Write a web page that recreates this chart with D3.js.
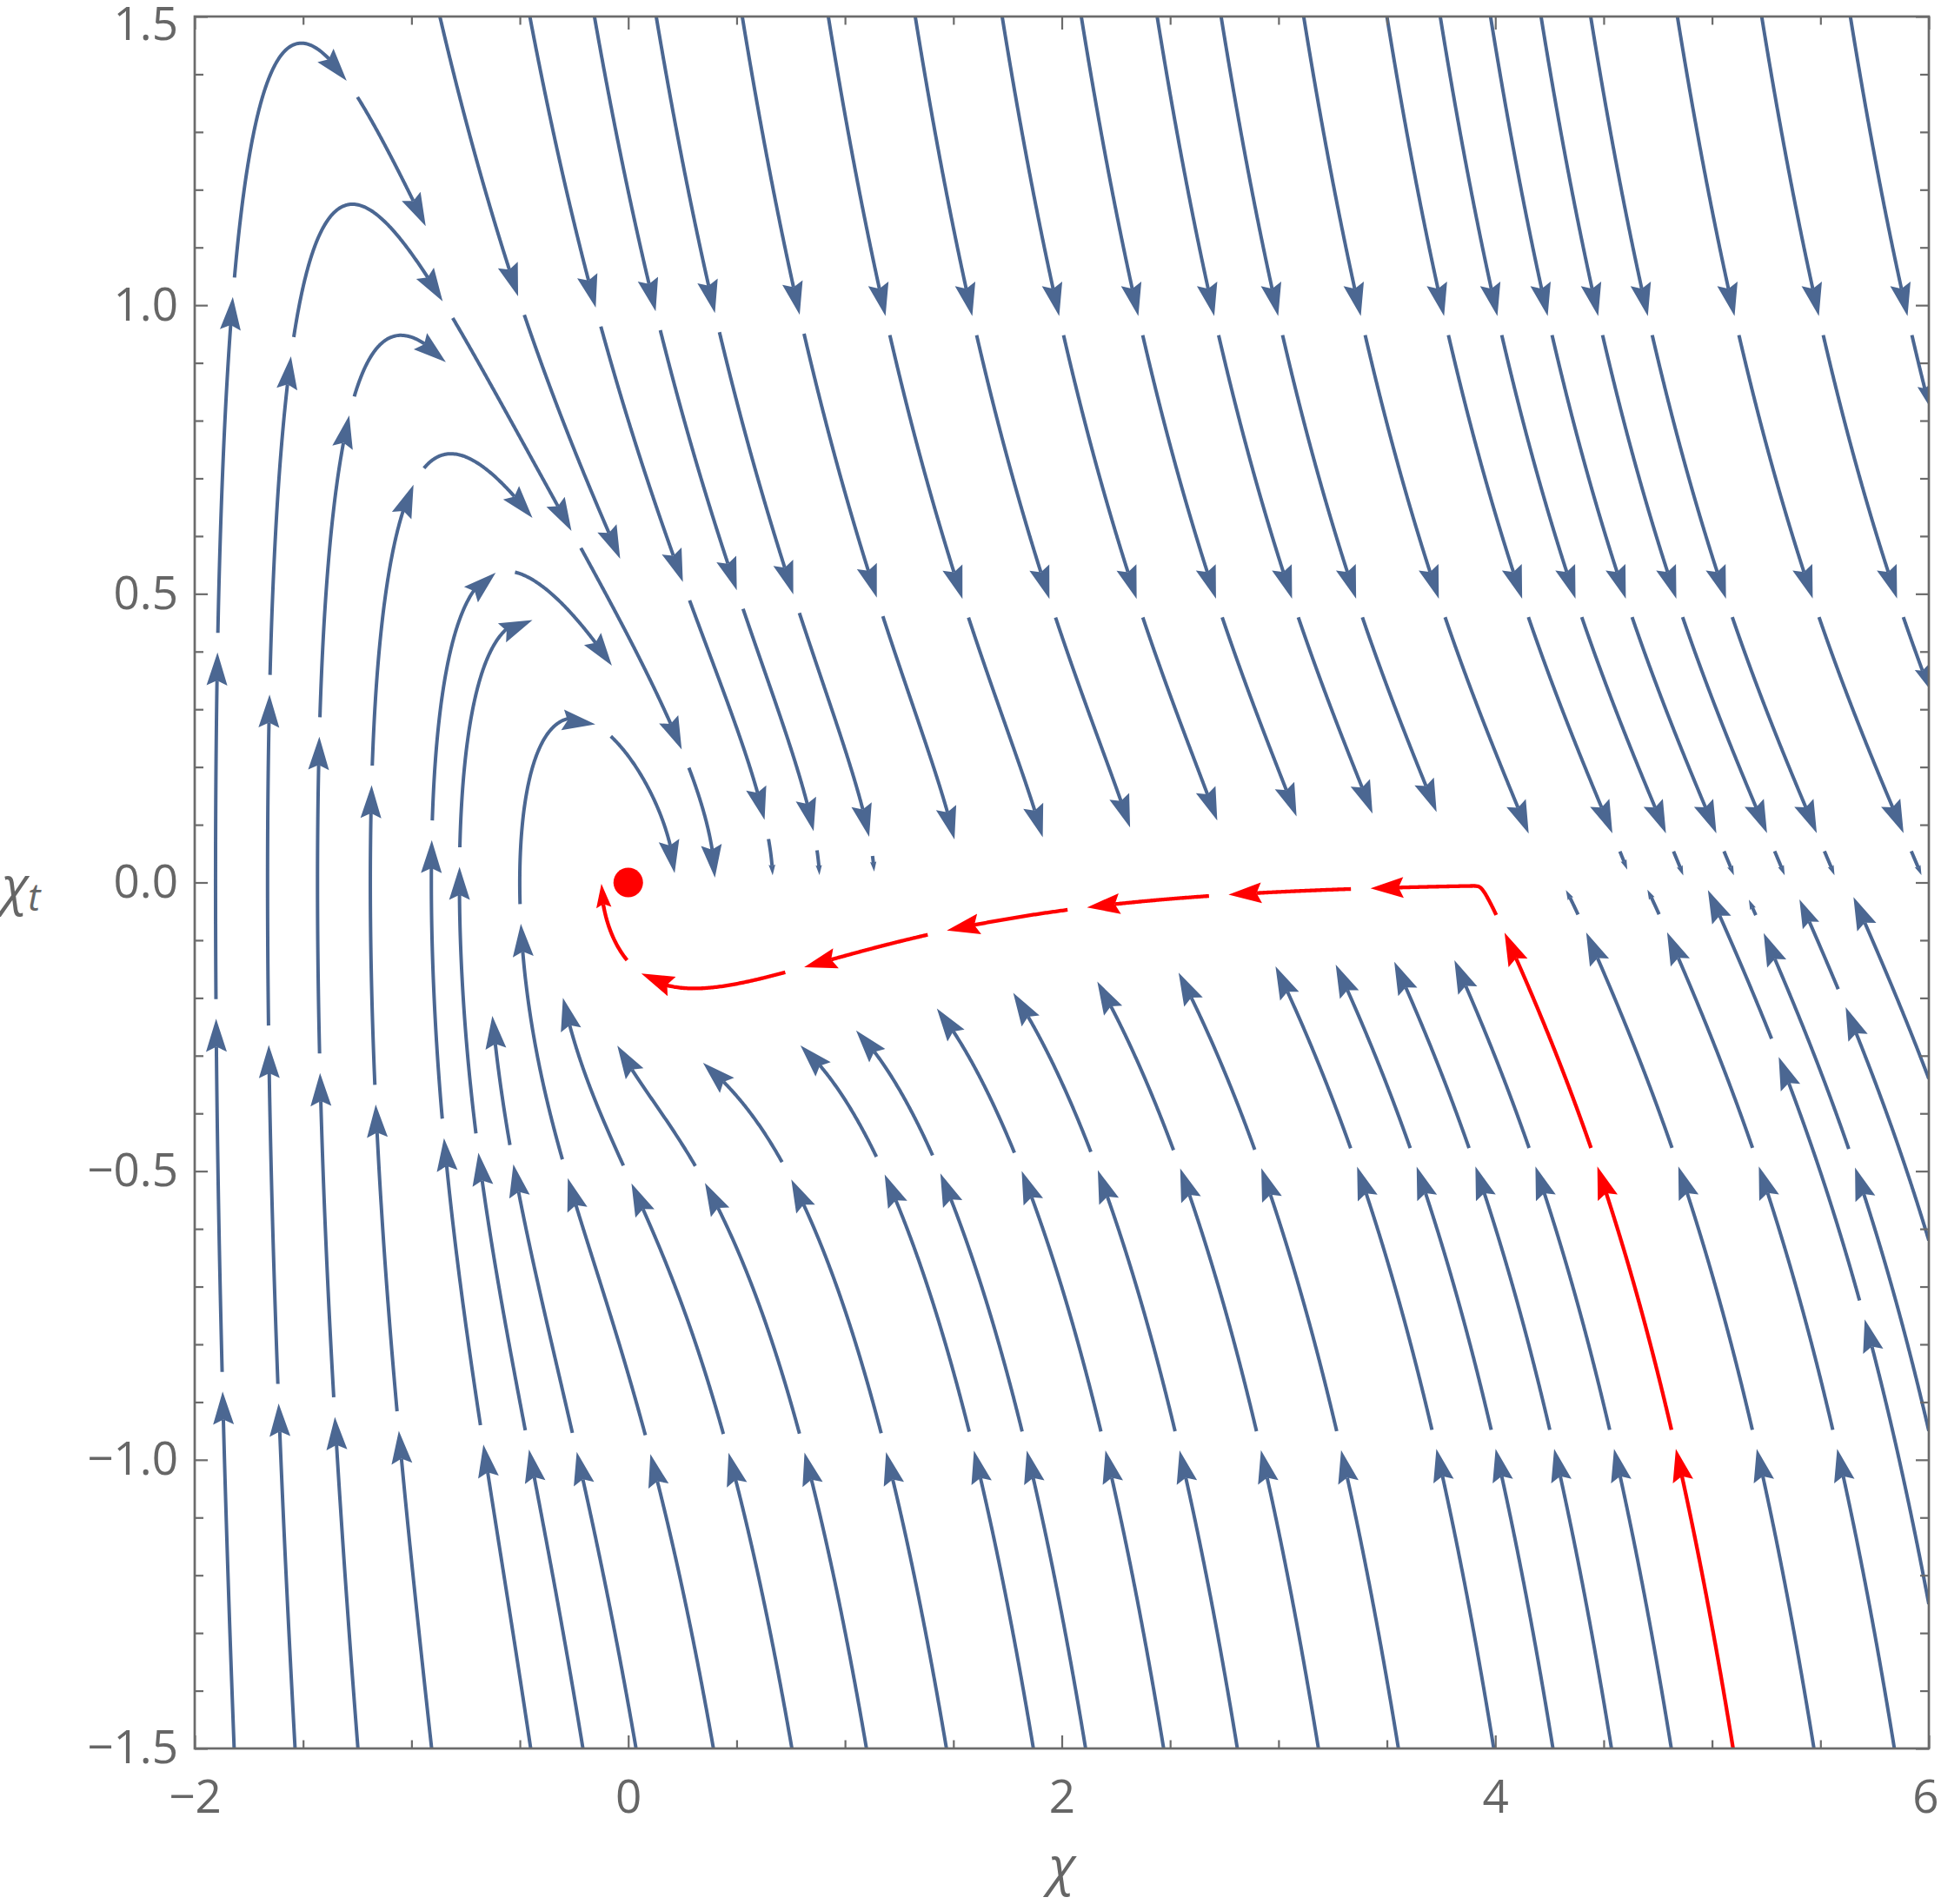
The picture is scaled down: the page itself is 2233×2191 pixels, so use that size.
<!DOCTYPE html>
<html>
<head>
<meta charset="utf-8">
<script src="https://cdn.jsdelivr.net/npm/d3@7"></script>
<style>
  body { margin: 0; background: #fff; }
  svg text { font-family: "Open Sans", "Noto Sans", sans-serif; fill: #666; }
</style>
</head>
<body>
<div id="chart"></div>
<script>
const bottomSeedsX = [-1.537, -0.907, -1.818, -1.247, -0.45, -0.209, 0.036, 0.393, 0.755, 1.099, 1.468, 1.869, 2.11, 2.47, 2.81, 3.184, 3.553, 3.993, 4.266, 4.536, 4.812, 5.47, 5.841]; // chi at chi_t = -1.5
const topSeedsX = [-0.869, -0.454, -0.156, 0.129, 0.526, 0.923, 1.324, 1.725, 2.09, 2.44, 2.735, 3.116, 3.5, 3.746, 3.978, 4.211, 4.44, 4.84, 5.229, 5.638]; // chi at chi_t = 1.5
const rightSeedsY = [-0.34, -0.62, -0.95, -1.25]; // chi_t at chi = 6
const redSeed = [5.097, -1.5];
const fixedPoint = [0, 0];
const xTicks = [-2, 0, 2, 4, 6];
const yTicks = [-1.5, -1, -0.5, 0, 0.5, 1, 1.5];

// field: chi_tt = -3 H chi_t - V'(chi), plateau potential V0 u(chi)^2
const V0 = 0.2, B = 1.15, BL = 0.77, KIN = 0.69, LAM = 0.05;
function u(c) { return c >= 0 ? 1 - Math.exp(-B * c) : (B / BL) * (1 - Math.exp(-BL * c)); }
function du(c) { return c >= 0 ? B * Math.exp(-B * c) : B * Math.exp(-BL * c); }
function V(c) { const w = u(c); return V0 * w * w; }
function dV(c) { return 2 * V0 * u(c) * du(c); }
function field(c, ct) {
    const H = Math.sqrt((KIN * ct * ct + V(c) + LAM) / 3);
    return [ct, -3 * H * ct - dV(c)];
}

const width = 2233, height = 2191;
const pLeft = 224, pRight = 2219, pTop = 19, pBottom = 2012;
const xs = d3.scaleLinear().domain([-2, 6]).range([pLeft, pRight]);
const ys = d3.scaleLinear().domain([-1.5, 1.5]).range([pBottom, pTop]);
const SX = (pRight - pLeft) / 8, SY = (pBottom - pTop) / 3;
const ox = xs(fixedPoint[0]), oy = ys(fixedPoint[1]);

const svg = d3.select("#chart").append("svg")
    .attr("width", width)
    .attr("height", height);

svg.append("clipPath").attr("id", "clip")
    .append("rect")
    .attr("x", pLeft).attr("y", pTop)
    .attr("width", pRight - pLeft).attr("height", pBottom - pTop);

// ---- streamline tracing in pixel space ----
// every stored point keeps other lines out of a disc of its own radius
const step = 1.5, CELL = 45, R_BLUE = 32, R_RED_SLOW = 85, R_RED = 45;
const grid = new Map();
function cellKey(i, j) { return i + "," + j; }
function register(pts, id, radiusOf) {
    pts.forEach(p => {
        const k = cellKey(Math.floor(p[0] / CELL), Math.floor(p[1] / CELL));
        if (!grid.has(k)) grid.set(k, []);
        grid.get(k).push([p[0], p[1], id, radiusOf(p)]);
    });
}
function tooClose(p, id) {
    const i = Math.floor(p[0] / CELL), j = Math.floor(p[1] / CELL);
    for (let di = -2; di <= 2; di++) {
        for (let dj = -2; dj <= 2; dj++) {
            const c = grid.get(cellKey(i + di, j + dj));
            if (!c) continue;
            for (const q of c) {
                if (q[2] !== id && Math.hypot(q[0] - p[0], q[1] - p[1]) < q[3]) return true;
            }
        }
    }
    return false;
}
function dirAt(px, py) {
    const f = field(xs.invert(px), ys.invert(py));
    const vx = f[0] * SX, vy = -f[1] * SY;
    const m = Math.hypot(vx, vy);
    if (m < 1e-7) return null;
    return [vx / m, vy / m, m];
}
// isRed: the highlighted orbit runs on until it has curled up past chi_t = 0
function trace(seed, id, stopR, isRed) {
    let p = [xs(seed[0]), ys(seed[1])];
    const d0 = dirAt(p[0], p[1]);
    if (!d0 || (!isRed && tooClose(p, id))) return { pts: [], spd: [] };
    const pts = [p], spd = [d0[2]];
    for (let n = 0; n < 12000; n++) {
        const k1 = dirAt(p[0], p[1]); if (!k1) break;
        const k2 = dirAt(p[0] + step / 2 * k1[0], p[1] + step / 2 * k1[1]); if (!k2) break;
        const k3 = dirAt(p[0] + step / 2 * k2[0], p[1] + step / 2 * k2[1]); if (!k3) break;
        const k4 = dirAt(p[0] + step * k3[0], p[1] + step * k3[1]); if (!k4) break;
        const q = [p[0] + step / 6 * (k1[0] + 2 * k2[0] + 2 * k3[0] + k4[0]),
                   p[1] + step / 6 * (k1[1] + 2 * k2[1] + 2 * k3[1] + k4[1])];
        if (q[0] < pLeft - 0.5 || q[0] > pRight + 0.5 || q[1] < pTop - 0.5 || q[1] > pBottom + 0.5) break;
        if (Math.hypot(q[0] - ox, q[1] - oy) < stopR) break;
        const cq = xs.invert(q[0]), ctq = ys.invert(q[1]);
        if (isRed) {
            if (cq < 0 && ctq > 0) break;
        } else {
            if (cq > 0.4 && Math.abs(ctq) < 0.012) break;
            if (tooClose(q, id)) break;
        }
        pts.push(q); spd.push(k1[2]); p = q;
    }
    register(pts, id, isRed ? (pt => xs.invert(pt[0]) < 3.9 ? R_RED_SLOW : R_RED) : () => R_BLUE);
    return { pts, spd };
}

// ---- cut a streamline into arrow pieces ----
const GAP = 22;
function segLen(m) { return Math.max(140, Math.min(410, 140 + 44 * Math.log(m / 20))); }
function dist(a, b) { return Math.hypot(a[0] - b[0], a[1] - b[1]); }
function cut(line) {
    const out = [], pts = line.pts, n = pts.length;
    let i = 0;
    while (i < n - 1) {
        const target = segLen(line.spd[i]);
        let j = i, acc = 0;
        while (j < n - 1 && acc < target) { acc += dist(pts[j], pts[j + 1]); j++; }
        if (acc > 6) out.push(pts.slice(i, j + 1));
        let g = 0;
        while (j < n - 1 && g < GAP) { g += dist(pts[j], pts[j + 1]); j++; }
        i = j;
    }
    return out;
}
function pointAt(pts, cum, s) {
    let k = d3.bisectLeft(cum, s);
    if (k <= 0) return pts[0];
    if (k >= pts.length) return pts[pts.length - 1];
    const t = (s - cum[k - 1]) / (cum[k] - cum[k - 1] || 1);
    return [pts[k - 1][0] + t * (pts[k][0] - pts[k - 1][0]), pts[k - 1][1] + t * (pts[k][1] - pts[k - 1][1])];
}
function drawLine(g, line, color, lw) {
    cut(line).forEach(pc => {
        const cum = [0];
        for (let k = 1; k < pc.length; k++) cum.push(cum[k - 1] + dist(pc[k - 1], pc[k]));
        const len = cum[cum.length - 1];
        const s = Math.max(0.3, Math.min(1, len / 130));
        const A = 38 * s, W = 12 * s;
        const tip = pc[pc.length - 1];
        const base = pointAt(pc, cum, len - A);
        let ux = tip[0] - base[0], uy = tip[1] - base[1];
        const um = Math.hypot(ux, uy) || 1; ux /= um; uy /= um;
        const notchS = len - 0.85 * A;
        const body = pc.filter((p, k) => cum[k] < notchS);
        body.push(pointAt(pc, cum, notchS));
        g.append("path")
            .attr("d", d3.line()(body))
            .attr("fill", "none")
            .attr("stroke", color)
            .attr("stroke-width", lw)
            .attr("stroke-linejoin", "round");
        const bx = tip[0] - A * ux, by = tip[1] - A * uy;
        const nx = tip[0] - 0.85 * A * ux, ny = tip[1] - 0.85 * A * uy;
        g.append("path")
            .attr("d", `M${tip[0]},${tip[1]}L${bx - W * uy},${by + W * ux}L${nx},${ny}L${bx + W * uy},${by - W * ux}Z`)
            .attr("fill", color);
    });
}

const red = trace(redSeed, 0, 18, true);
const blues = [];
let id = 1;
bottomSeedsX.forEach(c => blues.push(trace([c, -1.5], id++, 35, false)));
topSeedsX.forEach(c => blues.push(trace([c, 1.5], id++, 35, false)));
rightSeedsY.forEach(ct => blues.push(trace([6, ct], id++, 35, false)));

const plot = svg.append("g").attr("clip-path", "url(#clip)");
const blueG = plot.append("g");
blues.forEach(l => drawLine(blueG, l, "#4b6792", 4));
drawLine(plot.append("g"), red, "#ff0000", 4.3);

plot.append("circle")
    .attr("cx", ox).attr("cy", oy)
    .attr("r", 17)
    .attr("fill", "#ff0000");

// ---- frame, ticks, labels ----
const frameColor = "#6b6b6b";
const xMinor = d3.range(-2, 6.001, 0.5).filter(v => !xTicks.includes(v));
const yMinor = d3.range(-15, 16).map(v => v / 10).filter(v => !yTicks.some(t => Math.abs(t - v) < 1e-9));

function styleAxis(g) {
    g.select(".domain").remove();
    g.selectAll("line").attr("stroke", frameColor).attr("stroke-width", 2.2);
    g.selectAll("text").style("font-size", "53px").attr("fill", "#666");
}
const xAxisG = svg.append("g").attr("transform", `translate(0,${pBottom})`)
    .call(d3.axisBottom(xs).tickValues(xTicks).tickSize(-15).tickSizeOuter(0).tickPadding(36).tickFormat(d3.format("d")))
    .call(styleAxis);
xAxisG.selectAll("text").filter(d => d === 6).attr("dx", -4);
svg.append("g").attr("transform", `translate(0,${pBottom})`)
    .call(d3.axisBottom(xs).tickValues(xMinor).tickSize(-9.5).tickSizeOuter(0).tickFormat(""))
    .call(styleAxis);
svg.append("g").attr("transform", `translate(0,${pTop})`)
    .call(d3.axisTop(xs).tickValues(xTicks).tickSize(-15).tickSizeOuter(0).tickFormat(""))
    .call(styleAxis);
svg.append("g").attr("transform", `translate(0,${pTop})`)
    .call(d3.axisTop(xs).tickValues(xMinor).tickSize(-9.5).tickSizeOuter(0).tickFormat(""))
    .call(styleAxis);
const yAxisG = svg.append("g").attr("transform", `translate(${pLeft},0)`)
    .call(d3.axisLeft(ys).tickValues(yTicks).tickSize(-15).tickSizeOuter(0).tickPadding(19).tickFormat(d3.format(".1f")))
    .call(styleAxis);
yAxisG.selectAll("text").filter(d => d === 1.5).attr("y", 10);
svg.append("g").attr("transform", `translate(${pLeft},0)`)
    .call(d3.axisLeft(ys).tickValues(yMinor).tickSize(-10).tickSizeOuter(0).tickFormat(""))
    .call(styleAxis);
svg.append("g").attr("transform", `translate(${pRight},0)`)
    .call(d3.axisRight(ys).tickValues(yTicks).tickSize(-15).tickSizeOuter(0).tickFormat(""))
    .call(styleAxis);
svg.append("g").attr("transform", `translate(${pRight},0)`)
    .call(d3.axisRight(ys).tickValues(yMinor).tickSize(-10).tickSizeOuter(0).tickFormat(""))
    .call(styleAxis);

svg.append("rect")
    .attr("x", pLeft).attr("y", pTop)
    .attr("width", pRight - pLeft).attr("height", pBottom - pTop)
    .attr("fill", "none")
    .attr("stroke", frameColor)
    .attr("stroke-width", 2.7);

svg.append("text")
    .attr("x", xs(2)).attr("y", 2168)
    .attr("text-anchor", "middle")
    .style("font-size", "60px").style("font-style", "italic")
    .text("χ");
const yl = svg.append("text")
    .attr("x", 2).attr("y", 1040)
    .style("font-size", "60px").style("font-style", "italic");
yl.append("tspan").text("χ");
yl.append("tspan").attr("dy", 8).style("font-size", "43px").text("t");
</script>
</body>
</html>
